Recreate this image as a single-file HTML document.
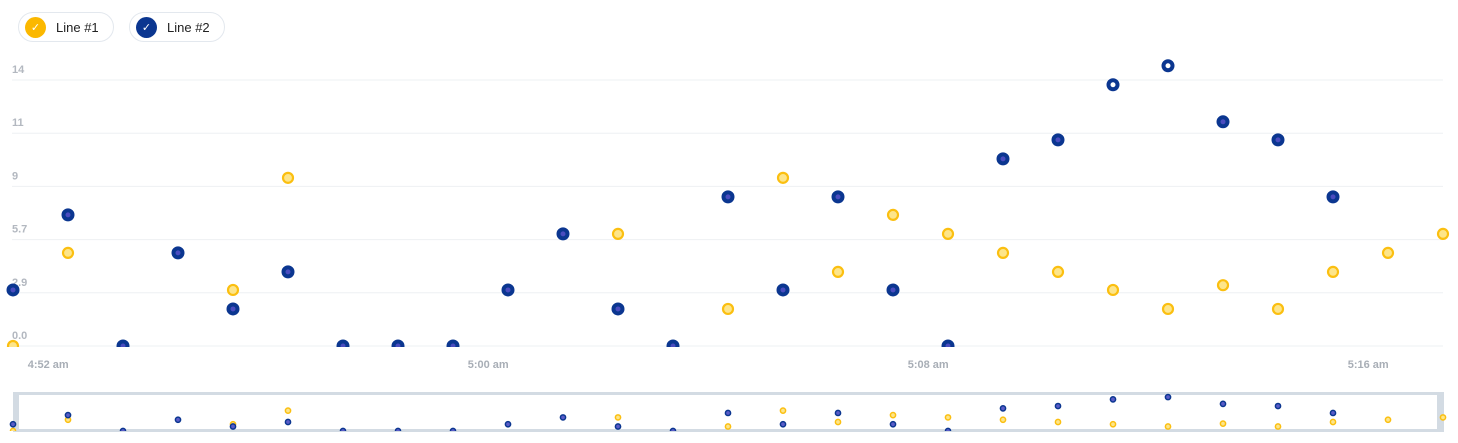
<!DOCTYPE html>
<html><head><meta charset="utf-8"><style>
body{margin:0;width:1458px;height:443px;background:#fff;font-family:"Liberation Sans",sans-serif;overflow:hidden}
.leg{position:absolute;top:12px;height:30px;border:1px solid #e3e8ee;border-radius:16px;display:flex;align-items:center;padding:0 12px 0 6px;font-size:13px;color:#222;box-sizing:border-box}
.dot{width:21px;height:21px;border-radius:50%;margin-right:10px;display:flex;align-items:center;justify-content:center;color:#fff;font-size:11px}
</style></head><body>
<div class="leg" style="left:18px;width:96px"><span class="dot" style="background:#fbb800">✓</span>Line #1</div>
<div class="leg" style="left:129px;width:96px"><span class="dot" style="background:#0b3690">✓</span>Line #2</div>
<svg id="c" width="1458" height="443" style="position:absolute;left:0;top:0"></svg>
<script>
const line1=[0,4.9,null,null,2.95,8.85,null,null,null,null,null,5.9,null,1.95,8.85,3.9,6.9,5.9,4.9,3.9,2.95,1.95,3.2,1.95,3.9,4.9,5.9];
const line2=[2.95,6.9,0,4.9,1.95,3.9,0,0,0,2.95,5.9,1.95,0,7.85,2.95,7.85,2.95,0,9.85,10.85,13.75,14.75,11.8,10.85,7.85,null,null];
const yTicks=[0,2.8,5.6,8.4,11.2,14];
const yTickLabels=["0.0","2.9","5.7","9","11","14"];
const xLabels=["4:52 am","5:00 am","5:08 am","5:16 am"];
const xLabelMinutes=[0.64,8.64,16.64,24.64];
const NS="http://www.w3.org/2000/svg";
const svg=document.getElementById('c');
const X=i=>13+i*55;
const Y=v=>346-v*19;
const NY=v=>431-v*2.3;
function mk(t,a,p){const e=document.createElementNS(NS,t);for(const k in a)e.setAttribute(k,a[k]);(p||svg).appendChild(e);return e;}
const defs=mk('defs',{});
const cp=mk('clipPath',{id:'pc'},defs);mk('rect',{x:0,y:40,width:1458,height:307},cp);
const cn=mk('clipPath',{id:'nc'},defs);mk('rect',{x:0,y:393,width:1458,height:38},cn);
yTicks.forEach((v,i)=>{
 const l=mk('line',{x1:12,x2:1443,y1:Y(v),y2:Y(v),stroke:'#eef0f3','stroke-width':1});
 
 
 const t=mk('text',{x:12,y:Y(v)-7,'font-size':11,fill:'#b3b8c0','font-weight':'bold'});
 t.textContent=yTickLabels[i];
 
 
});
xLabels.forEach((s,i)=>{
 const t=mk('text',{x:X(xLabelMinutes[i]),y:368,'font-size':11,fill:'#a8aeb6','font-weight':'bold','text-anchor':'middle'});
 t.textContent=s;
 
 
});
const g=mk('g',{'clip-path':'url(#pc)'});
line1.forEach((v,i)=>{if(v==null)return;
 const c=mk('circle',{cx:X(i),cy:Y(v),r:5,fill:'#fde58a',stroke:'#fbbf10','stroke-width':2.2},g);
 
 
});
line2.forEach((v,i)=>{if(v==null)return;
 const c=mk('circle',{cx:X(i),cy:Y(v),r:4.5,fill:v>=13.5?'#fff':'#4a4cbf',stroke:'#0b3690','stroke-width':4},g);
 
 
});
const nav=mk('rect',{x:14.5,y:393.5,width:1428,height:37,fill:'none',stroke:'#d3dbe3','stroke-width':3});


const h1=mk('rect',{x:13,y:393,width:6,height:38,fill:'#d3dbe3'});


const h2=mk('rect',{x:1437,y:393,width:6,height:38,fill:'#d3dbe3'});


const ng=mk('g',{'clip-path':'url(#nc)'});
line1.forEach((v,i)=>{if(v==null)return;
 const c=mk('circle',{cx:X(i),cy:NY(v),r:2.6,fill:'#fde58a',stroke:'#fbbf10','stroke-width':1.5},ng);
 
 
});
line2.forEach((v,i)=>{if(v==null)return;
 const c=mk('circle',{cx:X(i),cy:NY(v),r:2.6,fill:'#5a5cc8',stroke:'#0b3690','stroke-width':1.5},ng);
 
 
});
</script>
</body></html>
